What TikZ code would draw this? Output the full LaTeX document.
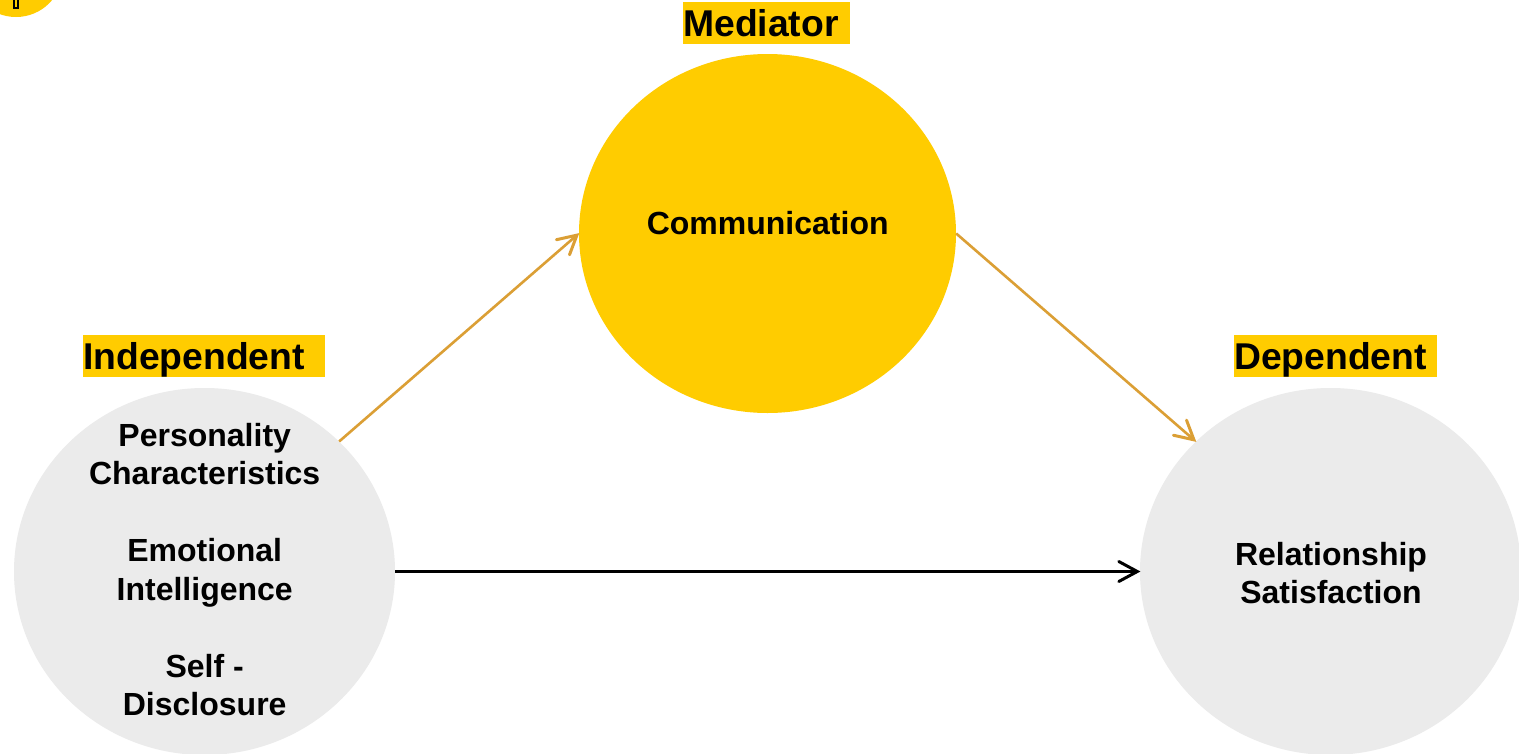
\documentclass[tikz,border=0pt]{standalone}
\usepackage{fontspec}
\setmainfont{Liberation Sans}
\usetikzlibrary{shapes.geometric,arrows.meta}
\definecolor{gold}{HTML}{FFCC00}
\definecolor{softgray}{HTML}{EBEBEB}
\definecolor{amber}{HTML}{DB9F35}
\pgfarrowsdeclare{barbhead}{barbhead}
{\pgfarrowsleftextend{-19pt}\pgfarrowsrightextend{1pt}}
{\pgfsetlinewidth{3pt}\pgfsetroundcap\pgfsetmiterjoin\pgfsetdash{}{0pt}
 \pgfpathmoveto{\pgfpoint{-18.5pt}{10pt}}
 \pgfpathlineto{\pgfpoint{0pt}{0pt}}
 \pgfpathlineto{\pgfpoint{-18.5pt}{-10pt}}
 \pgfusepathqstroke}
\tikzset{
  blob/.style={ellipse,draw=none,inner sep=0pt,minimum width=#1},
  heading/.style={fill=gold,inner sep=0pt,anchor=west,text height=34pt,text depth=8pt,align=left,font=\fontsize{37.3}{42}\selectfont\bfseries},
  body/.style={align=center,inner sep=0pt,font=\fontsize{32}{38.5}\selectfont\bfseries},
  link/.style={line width=3pt,-barbhead,shorten >=1.5pt},
}
\begin{document}
\begin{tikzpicture}[x=1pt,y=-1pt]
\path[clip] (0,0) rectangle (1519,753);
\fill[white] (0,0) rectangle (1519,753);
% cropped badge in the corner
\node[circle,fill=gold,minimum size=94pt,inner sep=0pt] (badge) at (16,-30) {};
\node[draw=black,line width=1.4pt,fill=none,minimum width=4pt,minimum height=12pt,inner sep=0pt] (badgemark) at (16,2) {};
% ellipses
\node[blob=381pt,minimum height=367pt,fill=softgray] (indep) at (204.5,571.5) {};
\node[blob=377pt,minimum height=359pt,fill=gold] (medi) at (767.5,233.5) {};
\node[blob=381pt,minimum height=367pt,fill=softgray] (depe) at (1330.5,571.5) {};
% headings
\node[heading,text width=242pt] (hindep) at (83,356) {Independent};
\node[heading,text width=167pt] (hmedi) at (683,23) {Mediator};
\node[heading,text width=203pt] (hdepe) at (1234,356) {Dependent};
% texts
\node[body] (tindep) at (204.7,569.7) {Personality\\Characteristics\\[38.5pt]Emotional\\Intelligence\\[38.5pt]Self -\\Disclosure};
\node[body] (tmedi) at (767.7,223) {Communication};
\node[body] (tdepe) at (1331,573) {Relationship\\Satisfaction};
% connectors
\draw[link,amber,line width=2.6pt] (indep.44) -- (medi.west);
\draw[link,amber,line width=2.6pt] (medi.east) -- (depe.136);
\draw[link,black] (indep.east) -- (depe.west);
\end{tikzpicture}
\end{document}
